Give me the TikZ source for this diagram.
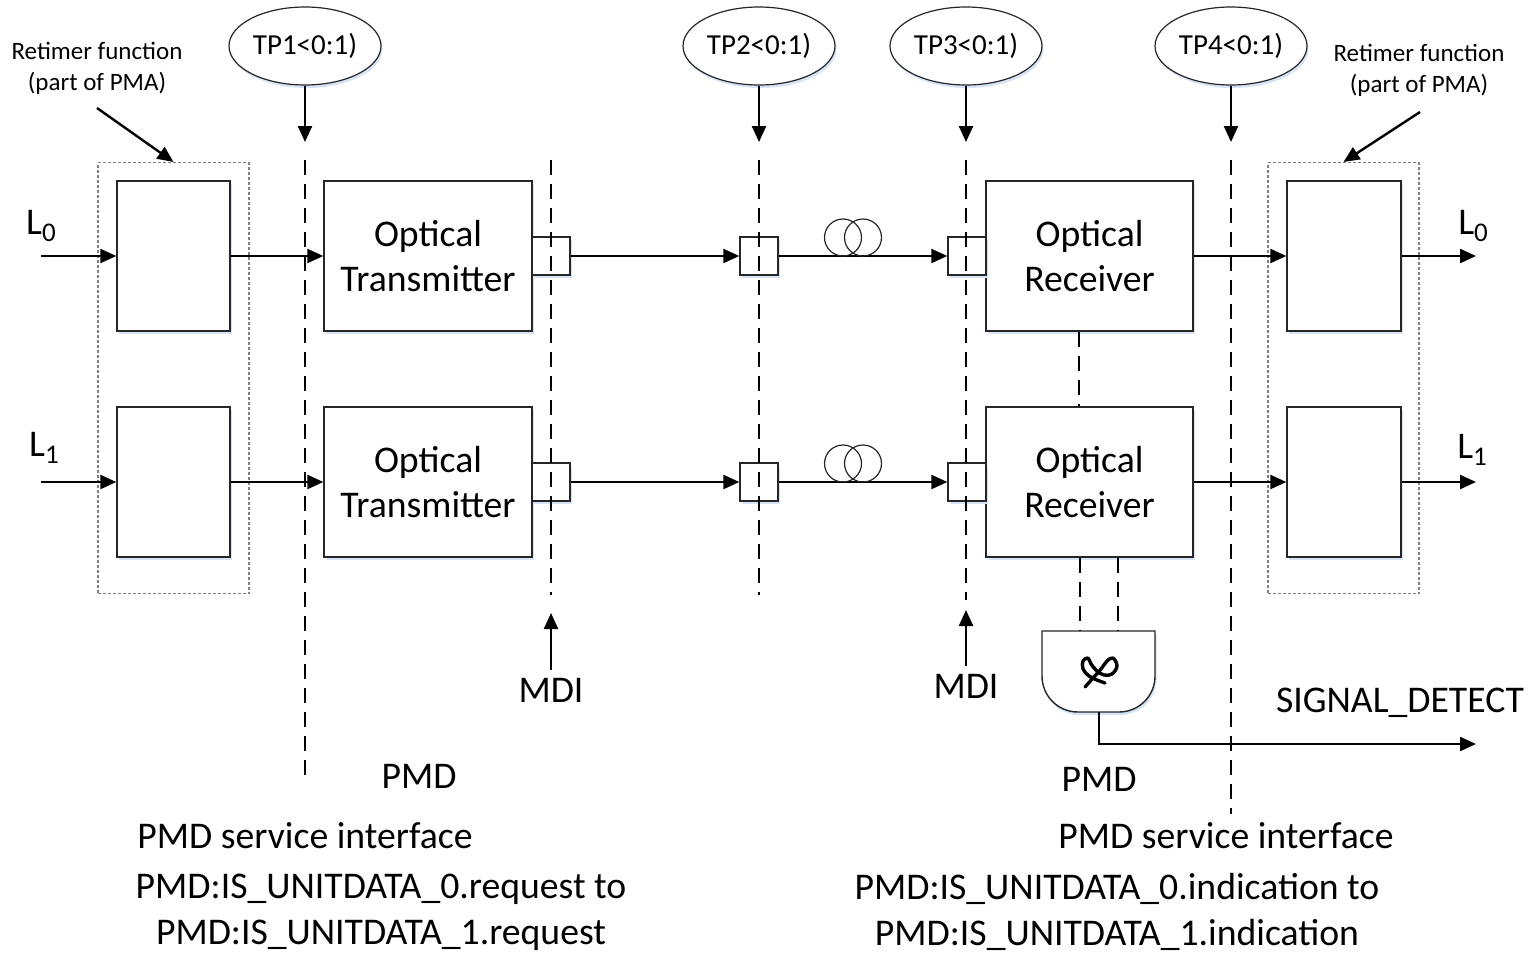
\documentclass[tikz,border=0pt]{standalone}
\usepackage{fontspec}
\setmainfont{Carlito}
\usetikzlibrary{arrows.meta,shapes.geometric,shadows,calc}
\definecolor{shblue}{RGB}{214,228,245}
\begin{document}
\begin{tikzpicture}[x=1pt,y=-1pt,
  big/.style={font=\fontsize{37.7}{45}\selectfont,inner sep=0pt},
  tpfont/.style={font=\fontsize{29}{34}\selectfont},
  small/.style={font=\fontsize{25}{31}\selectfont,inner sep=0pt},
  shad/.style={drop shadow={shadow xshift=1.5pt,shadow yshift=-3pt,fill=shblue,opacity=1}},
  blk/.style={draw=black!85,line width=1.4pt,fill=white,shad,inner sep=0pt},
  conn/.style={draw=black!85,line width=1.4pt,fill=white,shad,minimum size=38pt,inner sep=0pt},
  tp/.style={ellipse,draw=black!85,line width=1.2pt,fill=white,shad,minimum width=152pt,minimum height=78pt,inner sep=0pt,tpfont},
  retbox/.style={draw=gray,line width=1.1pt,dash pattern=on 3pt off 2pt,minimum width=151pt,minimum height=431pt,inner sep=0pt},
  arr/.style={line width=2.4pt,-{Triangle[length=16pt,width=14pt]}},
  dline/.style={line width=2.4pt,dash pattern=on 15pt off 9pt},
]
\useasboundingbox (0,0) rectangle (1533,953);
\fill[white] (0,0) rectangle (1533,953);

% retimer dotted boxes
\node[retbox] (retL) at (173.5,378) {};
\node[retbox] (retR) at (1343.5,378) {};

% blocks
\node[blk,minimum width=113pt,minimum height=150pt] (rl0) at (173.5,256) {};
\node[blk,minimum width=113pt,minimum height=150pt] (rl1) at (173.5,482) {};
\node[blk,minimum width=208pt,minimum height=150pt,align=center,big] (tx0) at (428,256) {Optical\\Transmitter};
\node[blk,minimum width=208pt,minimum height=150pt,align=center,big] (tx1) at (428,482) {Optical\\Transmitter};
\node[blk,minimum width=207pt,minimum height=150pt,align=center,big] (rx0) at (1089.5,256) {Optical\\Receiver};
\node[blk,minimum width=207pt,minimum height=150pt,align=center,big] (rx1) at (1089.5,482) {Optical\\Receiver};
\node[blk,minimum width=114pt,minimum height=150pt] (rr0) at (1344,256) {};
\node[blk,minimum width=114pt,minimum height=150pt] (rr1) at (1344,482) {};

% connectors
\node[conn] (c10) at (551,256) {};
\node[conn] (c20) at (759,256) {};
\node[conn] (c30) at (967,256) {};
\node[conn] (c11) at (551,482) {};
\node[conn] (c21) at (759,482) {};
\node[conn] (c31) at (967,482) {};

% signal arrows
\coordinate (in0) at (41,256);
\coordinate (in1) at (41,482);
\coordinate (out0) at (1476,256);
\coordinate (out1) at (1476,482);
\foreach \r in {0,1}{
  \draw[arr] (in\r) -- (rl\r.west);
  \draw[arr] (rl\r.east) -- (tx\r.west);
  \draw[arr] (c1\r.east) -- (c2\r.west);
  \draw[arr] (c2\r.east) -- (c3\r.west);
  \draw[arr] (rx\r.east) -- (rr\r.west);
  \draw[arr] (rr\r.east) -- (out\r);
}

% fiber coils
\foreach \yy in {237.5,463.5}{
  \draw[line width=1.2pt,draw=black!85] (843,\yy) circle[radius=18.5];
  \draw[line width=1.2pt,draw=black!85] (863,\yy) circle[radius=18.5];
}

% L labels
\node[big] (li0) at (41,226) {L\raisebox{-0.18em}{\fontsize{27}{27}\selectfont 0}};
\node[big] (li1) at (44,448) {L\raisebox{-0.18em}{\fontsize{27}{27}\selectfont 1}};
\node[big] (lo0) at (1473,226) {L\raisebox{-0.18em}{\fontsize{27}{27}\selectfont 0}};
\node[big] (lo1) at (1472,450) {L\raisebox{-0.18em}{\fontsize{27}{27}\selectfont 1}};

% retimer labels
\node[small,align=center] (rtL) at (97,68) {Retimer function\\(part of PMA)};
\node[small,align=center] (rtR) at (1419,70) {Retimer function\\(part of PMA)};
\coordinate (rtLa) at (97,108);
\coordinate (rtRa) at (1420,112);
\draw[arr] (rtLa) -- (retL.north);
\draw[arr] (rtRa) -- (retR.north);

% test points
\node[tp] (tp1) at (305,46) {TP1<0:1)};
\node[tp] (tp2) at (759,46) {TP2<0:1)};
\node[tp] (tp3) at (966,46) {TP3<0:1)};
\node[tp] (tp4) at (1231,46) {TP4<0:1)};
\coordinate (tp1e) at (305,142);
\coordinate (tp2e) at (759,142);
\coordinate (tp3e) at (966,142);
\coordinate (tp4e) at (1231,142);
\foreach \t in {1,2,3,4}{\draw[arr] (tp\t.south) -- (tp\t e);}

% dashed reference lines
\coordinate (d1a) at (305,160);   \coordinate (d1b) at (305,778);
\coordinate (dma) at (551,160);   \coordinate (dmb) at (551,595);
\coordinate (d2a) at (759,160);   \coordinate (d2b) at (759,595);
\coordinate (d3a) at (966,160);   \coordinate (d3b) at (966,600);
\coordinate (d4a) at (1231,160);  \coordinate (d4b) at (1231,814);
\draw[dline] (d1a) -- (d1b);
\draw[dline] (dma) -- (dmb);
\draw[dline] (d2a) -- (d2b);
\draw[dline] (d3a) -- (d3b);
\draw[dline] (d4a) -- (d4b);

% dashed link between receivers
\draw[dline] ($(rx0.south)+(-10.5,0)$) -- ($(rx1.north)+(-10.5,0)$);

% MDI
\coordinate (m1a) at (551,670); \coordinate (m1b) at (551,613);
\coordinate (m2a) at (966,666); \coordinate (m2b) at (966,610);
\draw[arr] (m1a) -- (m1b);
\draw[arr] (m2a) -- (m2b);
\node[big] (mdi1) at (551,690) {MDI};
\node[big] (mdi2) at (966,686) {MDI};

% AND gate
\coordinate (gIn1) at (1080,631);
\coordinate (gIn2) at (1118,631);
\coordinate (gOut) at (1099,712);
\draw[line width=1.4pt,draw=black!85,fill=white,shad]
  (1042,631) -- (1155,631) -- (1155,676)
  .. controls (1155,696) and (1139,712) .. (1119,712) -- (1078,712)
  .. controls (1058,712) and (1042,696) .. (1042,676) -- cycle;
\draw[dline] ($(rx1.south)+(-9.5,0)$) -- (gIn1);
\draw[dline] ($(rx1.south)+(28.5,0)$) -- (gIn2);
\draw[line width=3.4pt,line cap=round,line join=round]
  plot[smooth,tension=0.6] coordinates {(1085,687) (1093,678) (1101,669) (1107,661) (1113,658) (1117,666) (1112,674) (1104,675) (1097,671) (1091,664) (1088,658) (1083,661) (1083,669) (1089,676) (1097,680) (1105,683)};
\coordinate (sdEnd) at (1476,744);
\draw[arr] (gOut) |- (sdEnd);
\node[big] (sd) at (1400,703) {SIGNAL\_DETECT};

% PMD labels
\node[big] (pmd1) at (419,776) {PMD};
\node[big] (pmd2) at (1099,779) {PMD};
\node[big] (psi1) at (305,836) {PMD service interface};
\node[big] (psi2) at (1226,836) {PMD service interface};
\node[big,align=center,font=\fontsize{37.7}{46}\selectfont] (req) at (381,912) {PMD:IS\_UNITDATA\_0.request to\\PMD:IS\_UNITDATA\_1.request};
\node[big,align=center,font=\fontsize{37.7}{46}\selectfont] (ind) at (1117,912) {PMD:IS\_UNITDATA\_0.indication to\\PMD:IS\_UNITDATA\_1.indication};
\end{tikzpicture}
\end{document}
